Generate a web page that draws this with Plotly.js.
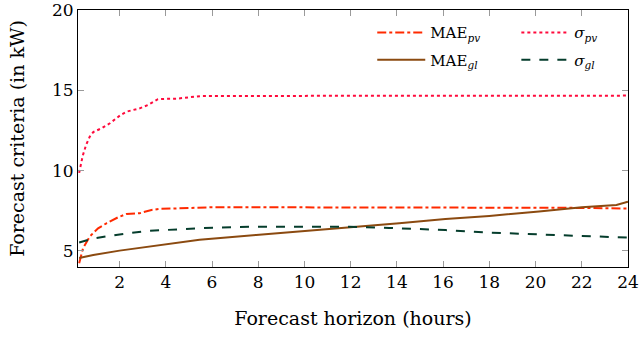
<!DOCTYPE html>
<html>
<head>
<meta charset="utf-8">
<script src="https://cdn.plot.ly/plotly-3.0.1.min.js"></script>
<style>html,body{margin:0;padding:0;background:#fff;}#chart{width:639px;height:338px;}</style>
</head>
<body>
<div id="chart"></div>
<script>
// Data (hours, kW)
const hoursMaePv = [0.25,0.42,0.71,1.07,1.43,1.94,2.3,2.87,3.38,3.74,4.5,5.16,6,8,10,12,14,16,18,20,22,24];
const maePv      = [4.24,5.18,5.9,6.41,6.72,7.1,7.3,7.35,7.55,7.62,7.65,7.7,7.72,7.72,7.7,7.7,7.7,7.7,7.7,7.7,7.68,7.64];

const hoursSigmaPv = [0.25,0.4,0.55,0.71,0.86,1.0,1.22,1.58,2.05,2.3,2.87,3.23,3.66,4.0,4.46,5.03,5.6,6,8,10,12,14,16,18,20,22,23,24];
const sigmaPv      = [9.86,10.9,11.6,12.12,12.4,12.5,12.64,12.95,13.47,13.67,13.88,14.09,14.45,14.47,14.48,14.57,14.65,14.65,14.65,14.65,14.65,14.65,14.65,14.65,14.65,14.67,14.65,14.67];

const hoursMaeGl = [0.25,0.86,2.0,3.74,5.46,7.91,9.78,11.94,14.1,16.1,18.0,20.15,22.0,23.5,24];
const maeGl      = [4.56,4.75,5.02,5.37,5.69,6.0,6.21,6.48,6.72,6.99,7.18,7.45,7.72,7.86,8.07];

const hoursSigmaGl = [0.25,0.86,2.0,3.16,4.6,6.04,7.9,10,11.94,13.67,14.8,16.1,18.0,20.15,22.0,24];
const sigmaGl      = [5.53,5.78,6.03,6.24,6.35,6.45,6.51,6.52,6.51,6.43,6.38,6.3,6.14,6.02,5.92,5.83];

const xTicks = [2,4,6,8,10,12,14,16,18,20,22,24];
const yTicks = [5,10,15,20];

const FONT = "'DejaVu Serif', 'Liberation Serif', serif";

const traces = [
  {x: hoursMaePv, y: maePv, mode: 'lines', name: 'MAE<sub><i>pv</i></sub>',
   line: {color: '#ff2a00', width: 2, dash: 'dashdot'}, legend: 'legend'},
  {x: hoursSigmaPv, y: sigmaPv, mode: 'lines', name: '<i>σ</i><sub><i>pv</i></sub>',
   line: {color: '#ff0a3c', width: 2, dash: 'dot'}, legend: 'legend2'},
  {x: hoursMaeGl, y: maeGl, mode: 'lines', name: 'MAE<sub><i>gl</i></sub>',
   line: {color: '#8b4a10', width: 2}, legend: 'legend3'},
  {x: hoursSigmaGl, y: sigmaGl, mode: 'lines', name: '<i>σ</i><sub><i>gl</i></sub>',
   line: {color: '#053d2c', width: 2, dash: 'dash'}, legend: 'legend4'}
];

function leg(x, y) {
  return {
    orientation: 'v', xanchor: 'left', yanchor: 'middle', x: x, y: y,
    bgcolor: 'rgba(0,0,0,0)', borderwidth: 0, itemwidth: 48,
    font: {family: FONT, size: 15, color: '#000'}
  };
}

const layout = {
  width: 639, height: 338,
  margin: {l: 78, r: 11, t: 10, b: 71},
  paper_bgcolor: '#fff', plot_bgcolor: '#fff',
  font: {family: FONT, size: 16, color: '#000'},
  showlegend: true,
  legend: leg(0.535, 0.911),
  legend2: leg(0.797, 0.911),
  legend3: leg(0.535, 0.805),
  legend4: leg(0.797, 0.805),
  xaxis: {
    range: [0.2, 24.001], tickvals: xTicks, ticktext: xTicks.map(String),
    showgrid: false, zeroline: false,
    showline: true, linecolor: '#000', linewidth: 1, mirror: 'ticks',
    ticks: 'inside', ticklen: 6, tickcolor: '#9a9a9a', tickwidth: 1,
    tickfont: {family: FONT, size: 17}, ticklabeloverflow: 'allow',
    title: {text: 'Forecast horizon (hours)', font: {family: FONT, size: 19}, standoff: 20},
    automargin: false
  },
  yaxis: {
    range: [4, 20.001], tickvals: yTicks, ticktext: yTicks.map(String),
    showgrid: false, zeroline: false,
    showline: true, linecolor: '#000', linewidth: 1, mirror: 'ticks',
    ticks: 'inside', ticklen: 6, tickcolor: '#9a9a9a', tickwidth: 1,
    tickfont: {family: FONT, size: 17}, ticklabeloverflow: 'allow',
    title: {text: 'Forecast criteria (in kW)', font: {family: FONT, size: 19}, standoff: 22},
    automargin: false
  }
};

Plotly.newPlot('chart', traces, layout, {displayModeBar: false, staticPlot: true});
</script>
</body>
</html>
